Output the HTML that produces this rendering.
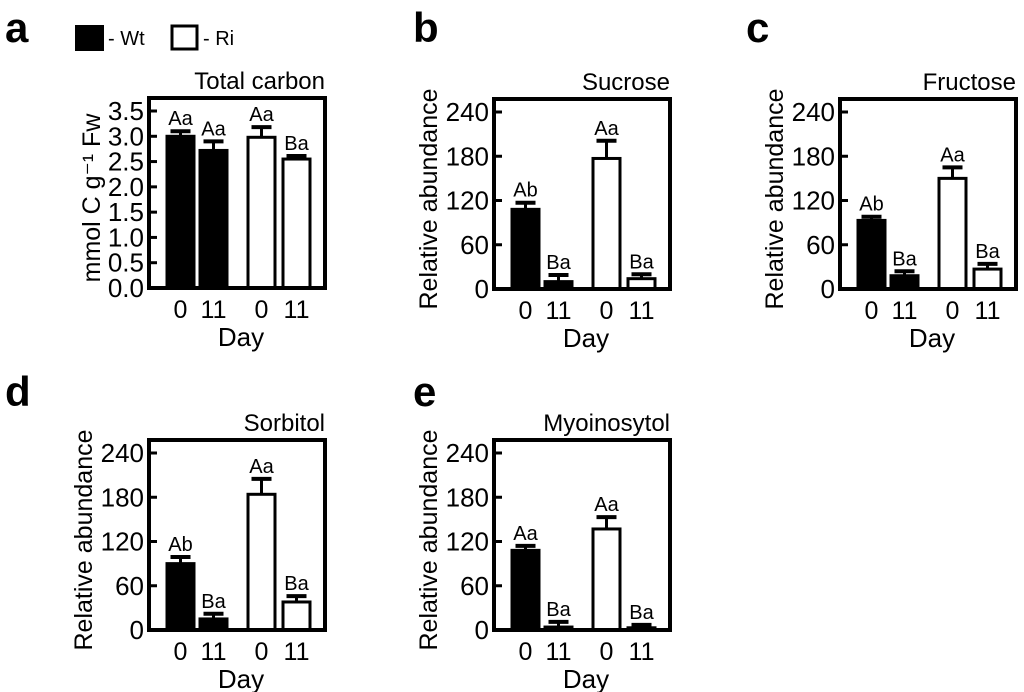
<!DOCTYPE html>
<html><head><meta charset="utf-8"><style>
html,body{margin:0;padding:0;background:#fff;}
svg{display:block;font-family:"Liberation Sans",Arial,sans-serif;}
</style></head><body>
<svg id="fig" width="1024" height="692" viewBox="0 0 1024 692"></svg>
<script>
const dayLabels = ["0","11","0","11"];
const letterLabels = ["Aa","Aa","Aa","Ba"];
const carbonValues = [3.0, 2.72, 2.98, 2.55];
const carbonErrors = [0.1, 0.18, 0.2, 0.06];
const carbonTicks = ["0.0","0.5","1.0","1.5","2.0","2.5","3.0","3.5"];
const relTicks = ["0","60","120","180","240"];
const sucroseValues = [108, 10, 177, 14];
const sucroseErrors = [9, 9, 24, 6];
const sucroseLetters = ["Ab","Ba","Aa","Ba"];
const fructoseValues = [93, 18, 150, 27];
const fructoseErrors = [5, 6, 15, 7];
const fructoseLetters = ["Ab","Ba","Aa","Ba"];
const sorbitolValues = [90, 15, 184, 38];
const sorbitolErrors = [9, 7, 21, 8];
const sorbitolLetters = ["Ab","Ba","Aa","Ba"];
const myoValues = [108, 4, 137, 3];
const myoErrors = [6, 7, 16, 4];
const myoLetters = ["Aa","Ba","Aa","Ba"];

const NS="http://www.w3.org/2000/svg";
const svg=document.getElementById('fig');
function mk(tag,attrs,parent){const e=document.createElementNS(NS,tag);for(const k in attrs)e.setAttribute(k,attrs[k]);(parent||svg).appendChild(e);return e;}
function txt(s,attrs,parent){const e=mk('text',attrs,parent);e.textContent=s;return e;}

function panel(o){
  const g=mk('g',{});
  
  
  const L=o.x,T=o.y,W=176,H=190,B=T+H;
  const yTop=B-177;
  const y=v=>B-(v-o.min)/(o.max-o.min)*(B-yTop);
  const barOff=[18,51,99,134], bw=27;
  o.values.forEach((v,i)=>{
    const x=L+barOff[i];
    const e=o.errors[i];
    const el=mk('line',{x1:x+bw/2,x2:x+bw/2,y1:y(v),y2:y(v+e),stroke:'#000','stroke-width':3},g);
    
    
    const cap=mk('line',{x1:x+bw/2-10,x2:x+bw/2+10,y1:y(v+e),y2:y(v+e),stroke:'#000','stroke-width':4},g);
    
    
    const r=mk('rect',{x:x,y:y(v),width:bw,height:B-y(v),fill:i<2?'#000':'#fff',stroke:'#000','stroke-width':3},g);
    
    
    const t=txt(o.letters[i],{x:x+bw/2,y:y(v+e)-6,'text-anchor':'middle','font-size':20},g);
    
    
    const d=txt(dayLabels[i],{x:x+bw/2,y:B+30,'text-anchor':'middle','font-size':25},g);
    
    
  });
  const f=mk('rect',{x:L,y:T,width:W,height:H,fill:'none',stroke:'#000','stroke-width':4},g);
  
  
  o.ticks.forEach(s=>{
    const v=parseFloat(s);
    mk('line',{x1:L,x2:L+8,y1:y(v),y2:y(v),stroke:'#000','stroke-width':3},g);
    const t=txt(s,{x:L-5,y:y(v)+9,'text-anchor':'end','font-size':26},g);
    
    
  });
  const ti=txt(o.title,{x:L+W,y:T-9,'text-anchor':'end','font-size':24},g);
  
  
  const xl=txt('Day',{x:L+W/2+4,y:B+58,'text-anchor':'middle','font-size':26},g);
  
  
  const yl=txt(o.ylabel,{x:0,y:0,'text-anchor':'middle','font-size':25,transform:`translate(${o.ylx},${T+H/2+5}) rotate(-90)`},g);
  
  
  const pl=txt(o.letter,{x:o.lx,y:o.ly,'font-size':42,'font-weight':'bold'},g);
  
  
}
panel({name:'total-carbon',x:149,y:98,min:0,max:3.5,values:carbonValues,errors:carbonErrors,letters:letterLabels,ticks:carbonTicks,title:'Total carbon',ylabel:'mmol C g\u207B\u00B9 Fw',ylx:100,letter:'a',lx:5,ly:42});
panel({name:'sucrose',x:494,y:99,min:0,max:240,values:sucroseValues,errors:sucroseErrors,letters:sucroseLetters,ticks:relTicks,title:'Sucrose',ylabel:'Relative abundance',ylx:437,letter:'b',lx:413,ly:42});
panel({name:'fructose',x:840,y:99,min:0,max:240,values:fructoseValues,errors:fructoseErrors,letters:fructoseLetters,ticks:relTicks,title:'Fructose',ylabel:'Relative abundance',ylx:783,letter:'c',lx:746,ly:42});
panel({name:'sorbitol',x:149,y:440,min:0,max:240,values:sorbitolValues,errors:sorbitolErrors,letters:sorbitolLetters,ticks:relTicks,title:'Sorbitol',ylabel:'Relative abundance',ylx:92,letter:'d',lx:5,ly:406});
panel({name:'myoinositol',x:494,y:440,min:0,max:240,values:myoValues,errors:myoErrors,letters:myoLetters,ticks:relTicks,title:'Myoinosytol',ylabel:'Relative abundance',ylx:437,letter:'e',lx:413,ly:406});
const lg=mk('g',{});


const s1=mk('rect',{x:75,y:25,width:29,height:26,fill:'#000'},lg);


const t1=txt('- Wt',{x:108,y:45,'font-size':20},lg);


const s2=mk('rect',{x:172,y:26,width:25,height:23,fill:'#fff',stroke:'#000','stroke-width':3},lg);


const t2=txt('- Ri',{x:203,y:45,'font-size':20},lg);


</script>
</body></html>
